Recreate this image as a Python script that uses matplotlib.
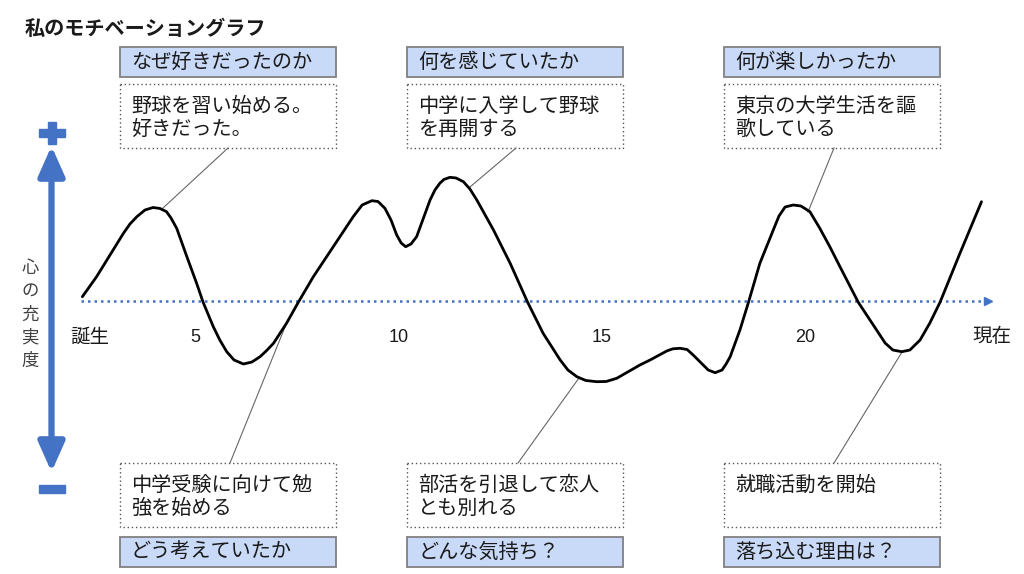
import matplotlib
matplotlib.use('Agg')
import matplotlib.pyplot as plt
from matplotlib.patches import Rectangle, FancyArrowPatch

plt.rcParams['font.family'] = ['Noto Sans CJK JP', 'DejaVu Sans']

# motivation curve (age in years, value above/below 0)
ages = [2.23, 2.58, 2.91, 3.24, 3.40, 3.57, 3.77, 3.97, 4.14, 4.30, 4.41, 4.55, 4.80,
        5.04, 5.20, 5.45, 5.61, 5.78, 5.96, 6.19, 6.40, 6.60, 6.75, 6.93, 7.25, 7.54,
        7.91, 8.40, 8.89, 9.11, 9.35, 9.50, 9.67, 9.82, 9.96, 10.07, 10.18, 10.31,
        10.45, 10.78, 10.90, 11.02, 11.12, 11.27, 11.42, 11.60, 11.76, 11.93, 12.34,
        12.75, 13.18, 13.56, 13.98, 14.17, 14.39, 14.61, 14.88, 15.11, 15.37, 15.94,
        16.19, 16.60, 16.75, 16.93, 17.10, 17.25, 17.62, 17.79, 17.96, 18.06, 18.16,
        18.40, 18.61, 18.89, 19.22, 19.36, 19.51, 19.71, 19.90, 20.12, 20.36, 20.61,
        20.86, 21.31, 21.76, 21.97, 22.16, 22.38, 22.58, 22.83, 23.07, 23.32, 23.81,
        24.34]
values = [0.43, 2.43, 4.6, 6.77, 7.7, 8.43, 9.1, 9.35, 9.25, 8.93, 8.3, 7.27, 4.43,
          1.77, -0.13, -2.57, -3.9, -5.07, -5.9, -6.3, -6.1, -5.57, -5.0, -4.23, -2.23, -0.13,
          2.43, 5.43, 8.43, 9.6, 10.03, 9.95, 9.27, 8.1, 6.6, 5.8, 5.43, 5.7,
          6.43, 10.1, 11.1, 11.77, 12.15, 12.37, 12.3, 11.93, 11.2, 10.1, 7.1,
          3.77, -0.13, -3.23, -5.9, -6.9, -7.57, -7.95, -8.07, -8.05, -7.73, -6.4,
          -5.9, -5.0, -4.78, -4.73, -4.85, -5.4, -6.9, -7.17, -6.9, -6.3, -5.57,
          -2.9, -0.13, 3.77, 7.1, 8.5, 9.4, 9.6, 9.5, 8.93, 7.3, 5.43,
          3.43, -0.13, -2.9, -4.2, -4.9, -5.07, -4.9, -3.9, -2.2, -0.13, 4.77,
          9.93]

tick_ages = [2.42, 5, 10, 15, 20, 24.6]
tick_labels = ['誕生', '5', '10', '15', '20', '現在']

questions_top = ['なぜ好きだったのか', '何を感じていたか', '何が楽しかったか']
events_top = ['野球を習い始める。\n好きだった。', '中学に入学して野球\nを再開する', '東京の大学生活を謳\n歌している']
questions_bottom = ['どう考えていたか', 'どんな気持ち？', '落ち込む理由は？']
events_bottom = ['中学受験に向けて勉\n強を始める', '部活を引退して恋人\nとも別れる', '就職活動を開始']

blue = '#4472C4'
ink = '#1a1a1a'

fig = plt.figure(figsize=(10.24, 5.74), dpi=100)

# pixel overlay for boxes and decorations
ax = fig.add_axes([0, 0, 1, 1])
ax.set_xlim(0, 1024)
ax.set_ylim(574, 0)
ax.axis('off')

# data axes: 40.67 px per year, 10 px per unit
px_per_year = 40.667
x0 = 5 - 195 / px_per_year
axd = fig.add_axes([0, 0, 1, 1])
axd.set_xlim(x0, x0 + 1024 / px_per_year)
axd.set_ylim(-27.3, 30.1)
axd.axis('off')
axd.patch.set_alpha(0)

axd.plot(ages, values, color='black', lw=2.0, solid_joinstyle='round', solid_capstyle='round', zorder=5)
axd.plot([2.2, 24.45], [0, 0], color=blue, lw=1.8, ls=(0, (1, 1.6)), zorder=3)
axd.plot([24.5], [0], marker='>', color=blue, ms=6, zorder=3)

for a, lab in zip(tick_ages, tick_labels):
    if lab.isdigit():
        axd.text(a, -3.6, lab, ha='center', va='center', fontsize=13, color=ink, family=['Liberation Sans'])
    else:
        axd.text(a, -3.6, lab, ha='center', va='center', fontsize=14, color=ink)

ax.text(25, 28, '私のモチベーショングラフ', fontsize=14.5, fontweight='bold', color=ink, va='center')

# vertical axis arrow with + / -
arrow = FancyArrowPatch((51.5, 472), (51.5, 146), arrowstyle='<|-|>,head_length=0.9,head_width=0.4',
                        mutation_scale=20, lw=4.5, color=blue, shrinkA=0, shrinkB=0)
ax.add_patch(arrow)
ax.add_patch(Rectangle((38.5, 129), 26, 8, color=blue))
ax.add_patch(Rectangle((47.5, 122), 8, 22, color=blue))
ax.add_patch(Rectangle((38.5, 485), 26, 8, color=blue))
for i, ch in enumerate('心の充実度'):
    ax.text(30, 268 + i * 23.3, ch, fontsize=12.5, color='#404040', ha='center', va='center')

box_x = [120, 407, 724]
box_w = 216


def question_box(x, y, text):
    ax.add_patch(Rectangle((x, y), box_w, 30, facecolor='#C9DAF8', edgecolor='#808080', lw=1.3))
    ax.text(x + 11, y + 15.5, text, fontsize=14.5, color=ink, va='center')


def event_box(x, y, text):
    ax.add_patch(Rectangle((x, y), box_w, 64, facecolor='white', edgecolor='#555555', lw=1.0,
                           ls=(0, (1, 2))))
    for j, line in enumerate(text.split('\n')):
        ax.text(x + 11, y + 22 + j * 23, line, fontsize=14.5, color=ink, va='center')


for x, q, e in zip(box_x, questions_top, events_top):
    question_box(x, 47, q)
    event_box(x, 84, e)

for x, q, e in zip(box_x, questions_bottom, events_bottom):
    event_box(x, 463, e)
    question_box(x, 537, q)

# connector lines from boxes to the curve
links = [((228, 148), (163, 208)), ((516, 148), (470, 187)), ((834, 148), (808, 212)),
         ((230, 463), (285, 327)), ((518, 463), (579, 378)), ((834, 463), (902, 352))]
for (xa, ya), (xb, yb) in links:
    ax.plot([xa, xb], [ya, yb], color='#666666', lw=0.8, zorder=4)

fig.savefig('out.png', dpi=100, facecolor='white')
